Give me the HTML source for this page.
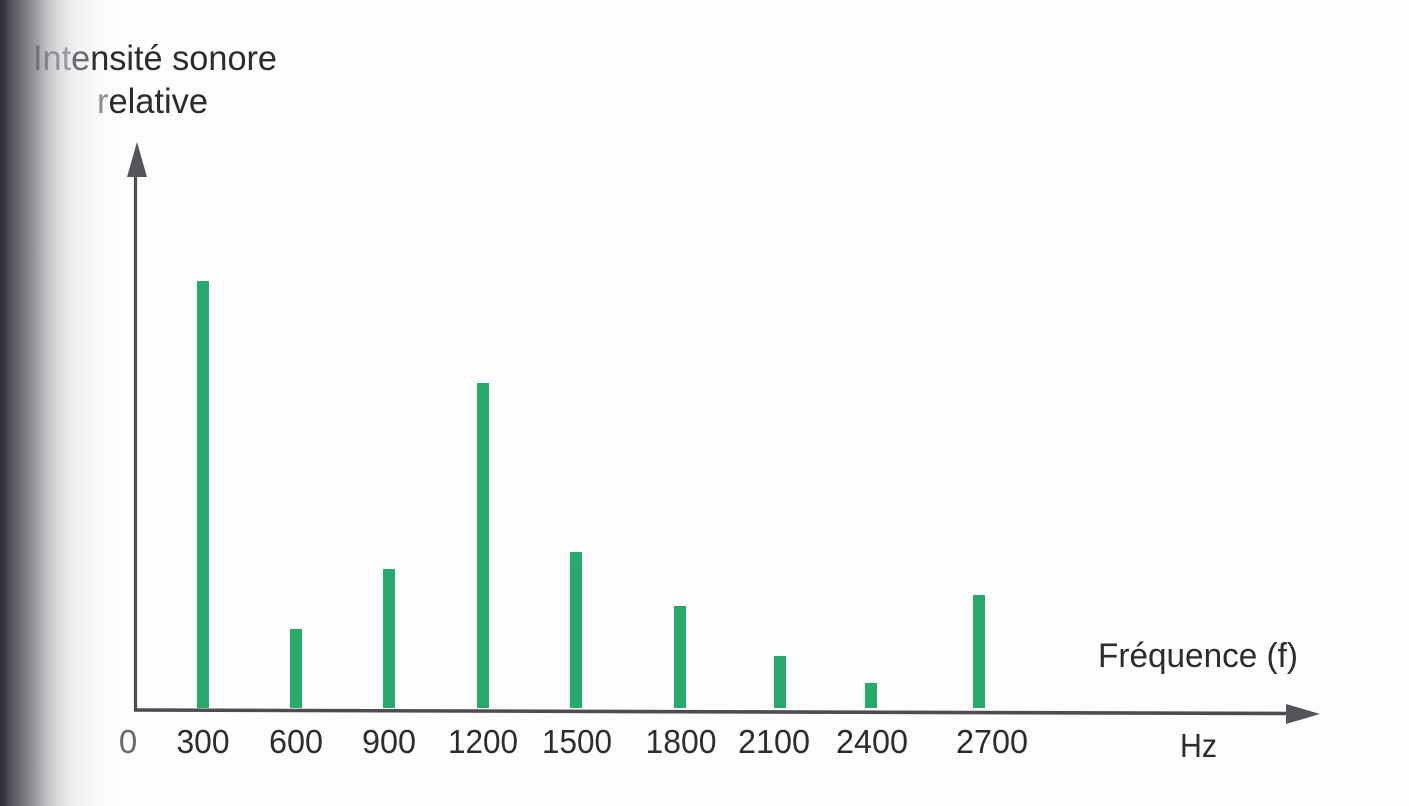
<!DOCTYPE html>
<html>
<head>
<meta charset="utf-8">
<style>
  html, body { margin: 0; padding: 0; background: #fdfdfd; }
  #wrap { position: relative; width: 1409px; height: 806px; overflow: hidden; background: #fdfdfd; }
  svg { position: absolute; left: 0; top: 0; }
  #shade {
    position: absolute; left: 0; top: 0; width: 130px; height: 806px;
    background: linear-gradient(to right,
      rgba(50,47,58,1) 0px,
      rgba(50,47,58,0.96) 5px,
      rgba(50,47,58,0.83) 10px,
      rgba(50,47,58,0.70) 20px,
      rgba(50,47,58,0.57) 30px,
      rgba(50,47,58,0.41) 40px,
      rgba(50,47,58,0.26) 50px,
      rgba(50,47,58,0.15) 60px,
      rgba(50,47,58,0.07) 75px,
      rgba(50,47,58,0.02) 95px,
      rgba(50,47,58,0) 125px);
  }
</style>
</head>
<body>
<div id="wrap">
<svg width="1409" height="806" viewBox="0 0 1409 806" xmlns="http://www.w3.org/2000/svg">
  <g font-family="'Liberation Sans', sans-serif" fill="#2d2b30">
    <text x="33" y="70" font-size="35" textLength="244" lengthAdjust="spacingAndGlyphs"><tspan fill="#a9a6af">Int</tspan><tspan fill="#6f6c74">e</tspan>nsité sonore</text>
    <text x="97" y="113" font-size="35" textLength="111" lengthAdjust="spacingAndGlyphs"><tspan fill="#8e8b93">r</tspan>elative</text>
  </g>

  <!-- bars -->
  <g fill="#27a96c">
    <rect x="197" y="281" width="12" height="427"/>
    <rect x="290" y="629" width="12" height="79"/>
    <rect x="383" y="569" width="12" height="139"/>
    <rect x="477" y="383" width="12" height="325"/>
    <rect x="570" y="552" width="12" height="156"/>
    <rect x="674" y="606" width="12" height="102"/>
    <rect x="774" y="656" width="12" height="52"/>
    <rect x="865" y="683" width="12" height="25"/>
    <rect x="973" y="595" width="12" height="113"/>
  </g>

  <!-- axes -->
  <g stroke="#4e4b53" fill="none">
    <line x1="135.5" y1="170" x2="135.5" y2="711" stroke-width="3.2"/>
    <line x1="134" y1="710" x2="1292" y2="713.5" stroke-width="3.6"/>
  </g>
  <polygon points="137,142 127,177 147,177" fill="#56535b"/>
  <polygon points="1320,714 1286,704 1286,724" fill="#56535b"/>

  <!-- tick labels -->
  <g font-family="'Liberation Sans', sans-serif" font-size="33" fill="#2d2b30" text-anchor="middle">
    <text x="128" y="753" fill="#6a676d">0</text>
    <text x="203" y="753" textLength="53" lengthAdjust="spacingAndGlyphs">300</text>
    <text x="296" y="753" textLength="54" lengthAdjust="spacingAndGlyphs">600</text>
    <text x="389" y="753" textLength="54" lengthAdjust="spacingAndGlyphs">900</text>
    <text x="483" y="753" textLength="70" lengthAdjust="spacingAndGlyphs">1200</text>
    <text x="577" y="753" textLength="70" lengthAdjust="spacingAndGlyphs">1500</text>
    <text x="681" y="753" textLength="71" lengthAdjust="spacingAndGlyphs">1800</text>
    <text x="774" y="753" textLength="72" lengthAdjust="spacingAndGlyphs">2100</text>
    <text x="872" y="753" textLength="72" lengthAdjust="spacingAndGlyphs">2400</text>
    <text x="992" y="753" textLength="72" lengthAdjust="spacingAndGlyphs">2700</text>
  </g>

  <g font-family="'Liberation Sans', sans-serif" fill="#2d2b30">
    <text x="1098" y="667" font-size="34" textLength="200" lengthAdjust="spacingAndGlyphs">Fréquence (f)</text>
    <text x="1180" y="757" font-size="33" textLength="37" lengthAdjust="spacingAndGlyphs">Hz</text>
  </g>
</svg>
<div id="shade"></div>
</div>
</body>
</html>
